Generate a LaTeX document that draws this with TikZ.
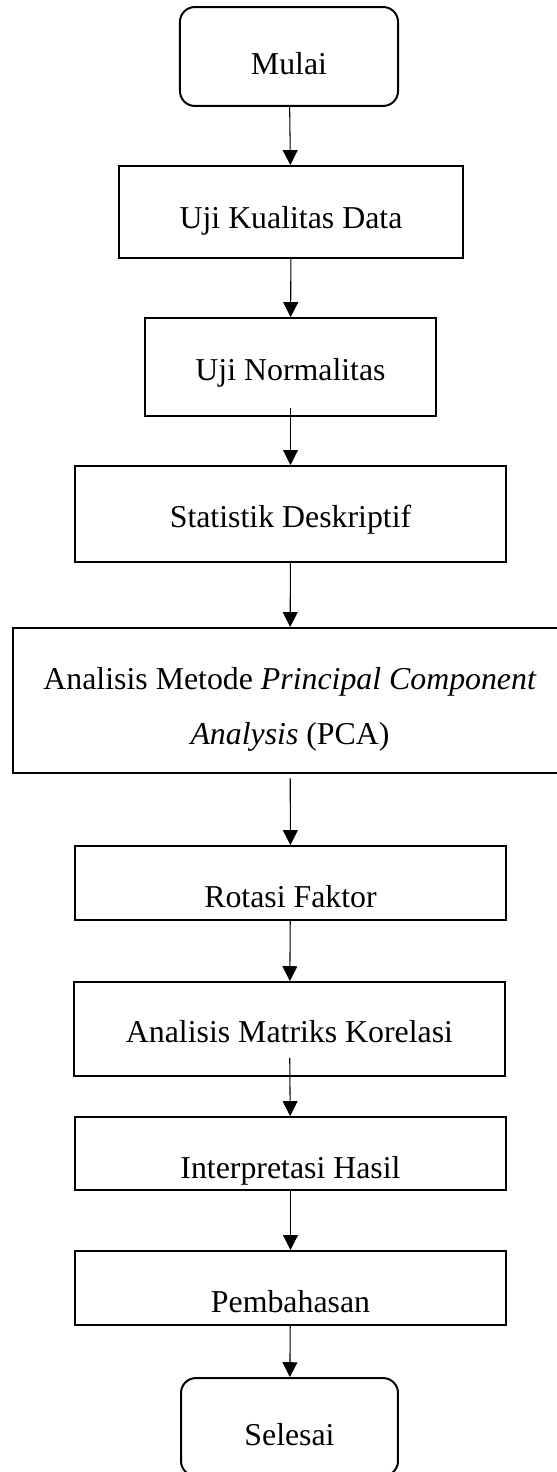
\documentclass[tikz,border=0pt]{standalone}
\usepackage{fontspec}
\setmainfont{Liberation Serif}
\usetikzlibrary{arrows.meta}
\begin{document}
\begin{tikzpicture}[x=0.377pt,y=-0.377pt,line cap=butt,line join=miter,>={Triangle[length=5.6pt,width=5.6pt]},font={\fontsize{12pt}{21pt}\selectfont}]
	\tikzset{kotak/.style={draw,line width=0.75pt,inner sep=0pt},
		terminal/.style={kotak,rounded corners=5.6pt},
		teks/.style={text height=#1,text depth=0pt},
		panah/.style={->,line width=0.4pt}}
	\useasboundingbox (0,0) rectangle (556,1472);
	% Kotak proses
	\node[terminal,minimum width=82.2pt,minimum height=37.3pt,teks=13.9pt] (mulai) at (289,56.5) {Mulai};
	\node[kotak,minimum width=129.7pt,minimum height=34.7pt,teks=12.1pt] (kualitas) at (291,212) {Uji Kualitas Data};
	\node[kotak,minimum width=109.7pt,minimum height=36.9pt,teks=9.8pt] (normalitas) at (290.5,367) {Uji Normalitas};
	\node[kotak,minimum width=162.5pt,minimum height=36.2pt,teks=9.8pt] (deskriptif) at (290.5,514) {Statistik Deskriptif};
	\node[kotak,minimum width=208.9pt,minimum height=54.7pt,align=center] (pca) at (290,700.5) {\rule{0pt}{15pt}Analisis Metode \textit{Principal Component}\\\textit{Analysis} (PCA)};
	\node[kotak,minimum width=162.5pt,minimum height=27.9pt,teks=18.1pt] (rotasi) at (290.5,883) {Rotasi Faktor};
	\node[kotak,minimum width=162.5pt,minimum height=35.4pt,teks=9.8pt] (matriks) at (289.5,1029) {Analisis Matriks Korelasi};
	\node[kotak,minimum width=162.5pt,minimum height=27.5pt,teks=18.5pt] (interpretasi) at (290.5,1153.5) {Interpretasi Hasil};
	\node[kotak,minimum width=162.5pt,minimum height=27.9pt,teks=18.1pt] (pembahasan) at (290.5,1288) {Pembahasan};
	\node[terminal,minimum width=81.8pt,minimum height=36.9pt,teks=13.6pt] (selesai) at (289.5,1427) {Selesai};
	% Panah alur
	\draw[panah] (mulai) -- (kualitas);
	\draw[panah] (kualitas) -- (normalitas);
	\draw[panah,shorten <=-3.4pt] (normalitas) -- (deskriptif);
	\draw[panah] (deskriptif) -- (pca);
	\draw[panah,shorten <=1.5pt] (pca) -- (rotasi);
	\draw[panah] (rotasi) -- (matriks);
	\draw[panah,shorten <=-7.2pt] (matriks) -- (interpretasi);
	\draw[panah] (interpretasi) -- (pembahasan);
	\draw[panah] (pembahasan) -- (selesai);
\end{tikzpicture}
\end{document}
